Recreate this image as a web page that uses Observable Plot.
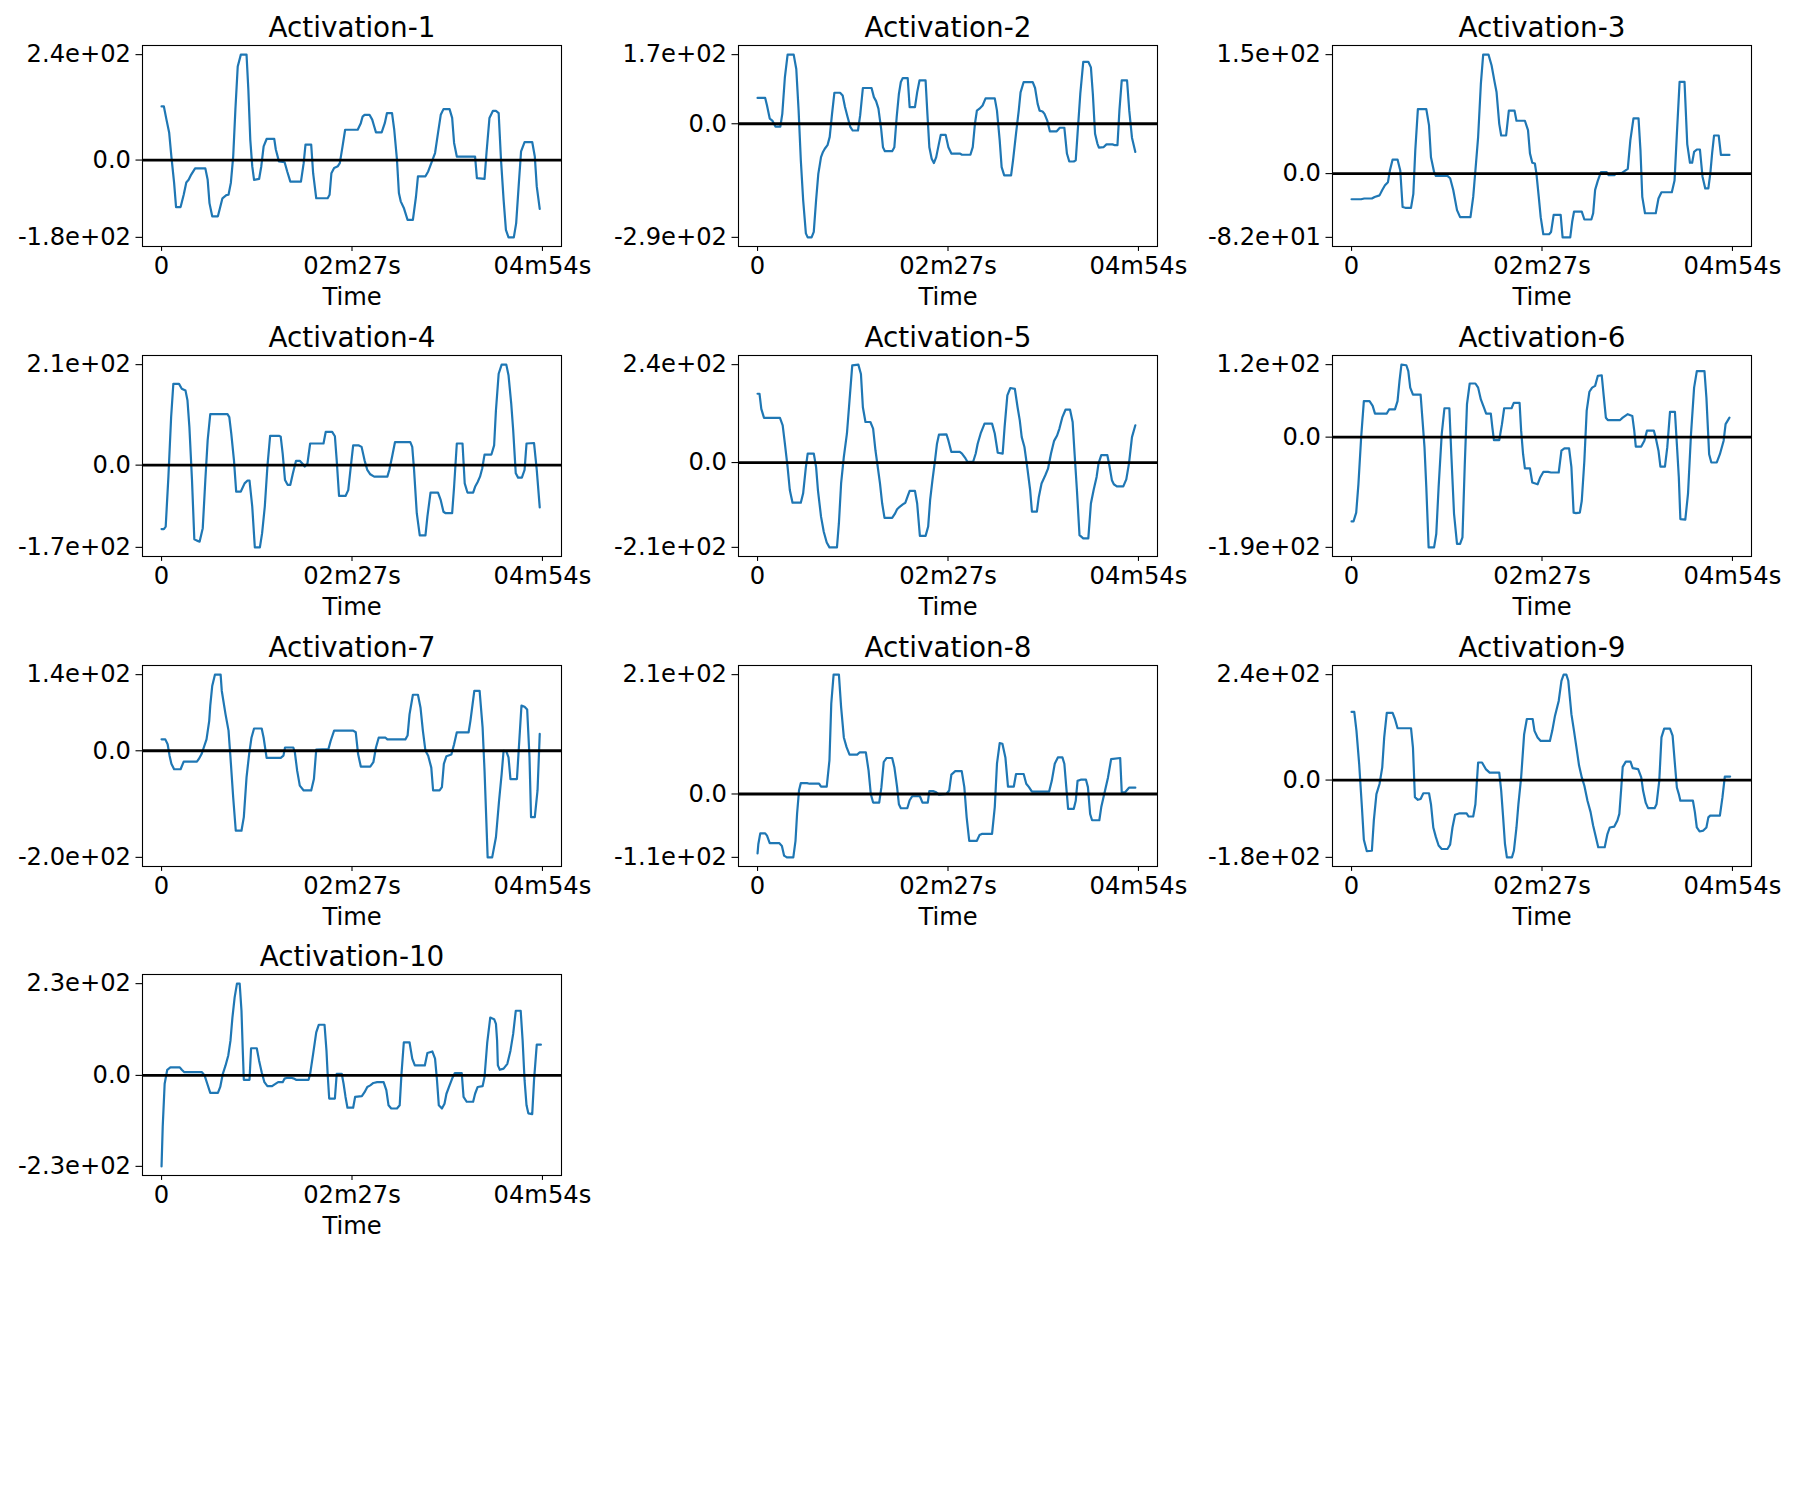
<!DOCTYPE html>
<html>
<head>
<meta charset="utf-8">
<script src="https://cdn.jsdelivr.net/npm/d3@7"></script>
<script src="https://cdn.jsdelivr.net/npm/@observablehq/plot@0.6"></script>
<style>
  html, body { margin: 0; padding: 0; background: #fff; }
  #fig { position: relative; width: 1800px; height: 1500px; background: #fff; }
  #fig svg { position: absolute; }
</style>
</head>
<body>
<div id="fig"></div>
<script>
// ---- data: [time (s), activation value] ----
const act1 = [[0,122],[1.8,122],[3.8,92],[5.9,62],[7.6,8],[9.7,-52],[11.2,-107],[14.7,-107],[17.1,-79],[19.1,-51],[20.9,-45],[22.9,-33],[25.9,-19],[33.8,-19],[35.6,-45],[37,-98],[39.1,-128],[43.5,-128],[47,-87],[50,-80],[51.7,-79],[53.5,-52],[55.3,8],[57,115],[58.8,213],[61.2,240],[65.6,240],[67,160],[68.5,46],[70,-14],[71.4,-45],[75.3,-43],[77,-14],[78.8,31],[81.1,48],[87,48],[88.2,24],[90.6,-3],[95,-5],[97,-26],[99.4,-49],[107.6,-49],[109.7,-7],[111.1,35],[115.5,35],[117,-30],[119.4,-87],[128.2,-87],[129.7,-79],[131.1,-30],[133.2,-18],[136.1,-14],[137.6,-7],[139.7,31],[141.7,69],[151.4,69],[153.8,84],[155.2,99],[156.7,103],[160.5,103],[162.6,92],[164.1,77],[165.5,63],[169.9,63],[172.3,84],[174,107],[177.9,107],[179.6,69],[181.7,1],[183.2,-75],[184.6,-94],[187,-109],[189.9,-136],[194,-136],[196.4,-83],[197.9,-37],[203.7,-37],[205.8,-26],[208.2,-7],[211.1,16],[213.4,62],[215.5,103],[217.6,116],[222.3,116],[224.3,96],[225.8,39],[227.9,8],[242,8],[243.4,-41],[249.3,-43],[250.8,16],[253.1,96],[255.8,112],[258.1,112],[260.2,107],[262,1],[264,-90],[265.8,-159],[267.8,-176],[271.9,-176],[273.7,-144],[275.8,-52],[277.5,20],[280.2,41],[286.1,41],[288.1,8],[289.6,-60],[291.9,-111]];

const act2 = [[0,65],[5.9,65],[7.3,46],[9.4,13],[11.4,8],[13.8,-7],[17.6,-7],[19.1,25],[21.1,117],[23.2,174],[27.9,174],[29.9,138],[31.7,33],[33.4,-92],[35.2,-192],[37.3,-276],[38.7,-286],[41.7,-286],[43.4,-272],[45.2,-192],[46.9,-126],[49,-84],[50.5,-71],[51.9,-63],[54,-54],[55.7,-33],[57.5,25],[59.3,78],[63.7,78],[65.7,71],[67.5,42],[69.5,17],[71.6,-8],[73.4,-17],[77.5,-17],[79.2,21],[81.3,90],[88,90],[89.8,67],[91.5,57],[93.3,38],[95.4,-13],[96.8,-59],[98.3,-69],[103.9,-69],[105.6,-59],[107.4,17],[109.1,75],[110.6,105],[112.1,115],[115.9,115],[117.4,42],[121.5,42],[123.2,79],[125,109],[129.7,109],[131.1,25],[132.6,-59],[134.4,-88],[136.1,-99],[137.9,-84],[140,-50],[141.4,-28],[145.2,-28],[147.3,-59],[149.6,-75],[156.1,-75],[157.8,-78],[164.3,-78],[166.1,-59],[167.8,0],[169.3,33],[171.3,38],[173.7,46],[176,64],[183.1,64],[184.8,33],[186.9,-42],[188.4,-109],[190.4,-130],[195.7,-130],[197.2,-92],[199.5,-25],[201.6,33],[203,79],[205.4,105],[212.4,105],[214.2,90],[216.2,50],[217.7,33],[220,31],[221.5,25],[223.6,8],[225.6,-19],[230.9,-19],[233.3,-10],[236.8,-10],[238.8,-75],[240.6,-95],[244.1,-95],[245.6,-92],[247,-25],[249.1,75],[251.4,156],[255.3,156],[257.3,142],[258.8,75],[260.5,-25],[262.3,-50],[263.5,-60],[267,-59],[269.3,-52],[274,-52],[275.8,-54],[277.8,-54],[279.3,33],[281.1,109],[285.2,109],[286.9,33],[289,-35],[291.6,-71]];

const act3 = [[0,-33],[7.4,-33],[9.8,-32],[15.7,-32],[17.8,-30],[21.6,-28],[23.7,-21],[25.8,-15],[28.1,-11],[29.6,4],[31.7,18],[35.5,18],[37.6,4],[39.4,-43],[41.5,-44],[45.9,-44],[47.7,-26],[49.2,30],[51.2,83],[57.7,83],[59.8,62],[61.3,21],[63.7,2],[65.1,-3],[74,-3],[76.1,-6],[78.5,-21],[81.4,-47],[83.8,-56],[91.8,-56],[93.9,-30],[95.6,4],[97.7,47],[99.8,115],[101.6,153],[105.7,153],[108.1,139],[110.4,118],[111.9,105],[114,64],[115.5,49],[119.3,49],[121.4,81],[125.8,81],[127.3,68],[133.8,68],[136.2,56],[137.7,26],[139.5,14],[141.5,13],[142.7,0],[144.5,-30],[146,-56],[148,-78],[152.5,-78],[154,-75],[156,-53],[161.4,-53],[162.9,-82],[168.8,-82],[170.3,-62],[171.7,-49],[177.7,-49],[179.7,-59],[185.1,-59],[186.5,-51],[188,-21],[190.1,-9],[192.5,2],[196.9,2],[198.4,-2],[202.8,-2],[204.3,0],[208.7,1],[213.2,6],[215.2,43],[217.6,71],[221.5,71],[223,30],[224.4,-30],[226.5,-51],[234.8,-51],[236.9,-32],[239.2,-24],[247.2,-24],[249.3,-9],[251.1,51],[253.2,118],[257,118],[259.1,38],[261.2,14],[262.9,14],[264.4,28],[266.5,31],[268.9,31],[270.9,-4],[273,-19],[275.4,-19],[276.9,0],[278.3,26],[279.8,49],[283.4,49],[285.1,24],[291.7,24]];

const act4 = [[0,-133],[1.8,-133],[3.2,-128],[5.3,-24],[7.4,100],[9.1,169],[13.5,169],[15.6,159],[18.5,155],[20,135],[21.5,79],[23.5,-31],[25.3,-154],[27.3,-157],[29.4,-159],[31.8,-131],[33.8,-31],[35.6,52],[37.6,106],[50.9,106],[52.3,100],[53.8,66],[55.9,10],[57.6,-55],[61.2,-55],[64.1,-38],[66.4,-32],[67.9,-32],[70,-86],[72,-171],[75.9,-171],[77.6,-142],[79.7,-86],[81.7,-3],[83.8,61],[90.6,61],[92,59],[93.5,24],[95.3,-31],[97.3,-41],[99.4,-41],[101.4,-17],[103.8,9],[106.7,9],[108.8,3],[110.5,-3],[112.6,3],[114.7,45],[125,45],[126.7,69],[131.7,69],[133.8,60],[135.2,10],[137,-64],[142,-64],[144.1,-52],[145.8,-10],[147.9,41],[152.3,41],[154.4,38],[156.7,10],[158.8,-10],[161.1,-19],[164.1,-24],[174.3,-24],[175.8,-10],[177.9,17],[180.2,48],[192,48],[193.5,38],[194.9,-10],[197,-100],[199.3,-146],[203.7,-146],[205.2,-107],[207.6,-57],[213.4,-57],[215.5,-73],[217.6,-97],[219.3,-100],[224.3,-100],[225.8,-45],[227.9,45],[232.3,45],[234,-38],[236.1,-57],[240.5,-57],[242,-45],[244,-35],[245.8,-24],[247.5,-7],[249.3,22],[254.6,22],[256.7,41],[258.1,114],[260.2,190],[262.5,209],[266.1,209],[267.8,187],[269.9,128],[271.4,73],[273.4,-17],[275.2,-26],[278.1,-26],[280.2,-10],[281.7,45],[287.5,46],[289.6,-10],[291.9,-88]];

const act5 = [[0,168],[1.5,168],[2.9,131],[5,109],[17.3,109],[19.4,91],[21.1,46],[23.2,-11],[24.9,-67],[27,-98],[33.4,-98],[35.2,-75],[37.3,-11],[38.7,22],[43.4,22],[45.2,-11],[46.6,-67],[49,-132],[51.1,-169],[53.4,-195],[55.5,-207],[61.3,-207],[62.8,-148],[64.5,-51],[66.6,14],[69,71],[71,152],[73.1,237],[77.8,239],[79.8,216],[81.3,135],[83.3,99],[87.1,99],[89.2,83],[91,30],[92.4,-2],[94.5,-51],[96.2,-100],[98,-135],[103.9,-135],[106.2,-124],[107.7,-114],[109.7,-108],[112.1,-102],[114.1,-98],[115.9,-82],[117.4,-69],[121.5,-69],[123.2,-100],[125.3,-179],[129.7,-179],[131.7,-156],[133.2,-92],[135,-43],[137,6],[138.5,46],[140,68],[145.8,69],[147.3,54],[149.6,26],[156.1,26],[157.8,22],[160.5,10],[162,2],[166.4,2],[168.4,22],[169.9,46],[172.2,71],[175.2,95],[181,95],[183.1,71],[185.4,24],[189.2,22],[190.7,87],[192.8,164],[195.1,182],[198.6,180],[200.7,135],[202.4,103],[203.9,62],[206,38],[208.3,-15],[210.4,-67],[211.8,-120],[215.6,-120],[217.1,-84],[219.2,-51],[222.1,-31],[224.2,-15],[226.5,22],[228.9,53],[231.2,66],[233,83],[235.3,111],[237.7,129],[241.2,129],[243.2,99],[244.7,22],[246.5,-67],[248.5,-177],[251.4,-185],[255.3,-185],[257.3,-100],[259.4,-67],[261.7,-35],[263.2,-2],[265.3,18],[270,18],[271.5,-6],[273.5,-43],[275,-53],[277.3,-58],[282.3,-58],[284.6,-41],[286.7,-2],[289,62],[291.6,91]];

const act6 = [[0,-143],[1.5,-143],[3.6,-128],[5.3,-80],[7.4,-1],[9.5,61],[13.9,61],[16.3,53],[18.1,40],[27.2,40],[29,47],[33.5,47],[35.5,61],[37,95],[38.5,123],[42.3,122],[43.8,112],[45.3,84],[47.4,72],[53.3,72],[54.8,28],[56.3,-17],[57.7,-85],[59.5,-187],[63.7,-187],[65.4,-164],[67.2,-85],[69.6,5],[71.7,49],[75.5,49],[77,-29],[79.1,-130],[81.4,-181],[83.8,-181],[85.6,-170],[87.4,-46],[89.1,56],[91.2,91],[95.6,91],[97.7,84],[99.8,64],[102.2,50],[103.9,40],[107.5,40],[108.7,16],[109.9,-5],[114,-5],[116.1,22],[117.8,49],[123.5,49],[125.2,58],[129.7,58],[130.9,11],[132.4,-29],[133.8,-53],[137.7,-53],[139.5,-77],[143.6,-80],[145.7,-68],[148,-59],[151.6,-59],[154,-60],[159.9,-60],[162,-23],[164.3,-19],[167.9,-19],[169.7,-51],[171.4,-128],[173.2,-129],[176.2,-128],[177.7,-108],[179.7,-40],[181.5,45],[183.6,77],[185.7,84],[188,87],[190.1,104],[193.1,105],[194.5,73],[196.3,33],[197.8,29],[207.3,29],[209.3,33],[213.2,39],[216.7,36],[218.2,11],[219.4,-16],[223.6,-16],[226,-6],[228,11],[233.3,11],[234.8,-1],[236.9,-23],[238.4,-50],[241.9,-50],[243.7,-17],[245.8,43],[249.6,43],[251.1,-12],[252.6,-68],[253.8,-139],[257.6,-140],[259.7,-96],[262,5],[264.4,84],[266.5,112],[272.4,112],[273.9,67],[276,-29],[277.7,-43],[281.9,-43],[284.3,-29],[287.2,-6],[288.7,22],[291.7,33]];

const act7 = [[0,21],[2.9,21],[4.7,12],[6.2,-9],[7.6,-24],[9.7,-34],[14.7,-34],[17.1,-20],[27.3,-20],[28.8,-15],[30.9,-6],[32.6,6],[34.7,21],[36.8,55],[37.6,83],[39.1,119],[41.2,140],[45.6,140],[46.5,110],[49.4,67],[51.7,37],[53.2,-12],[55.3,-86],[57.3,-147],[61.7,-147],[63.5,-122],[65.6,-49],[67.6,-6],[69.4,24],[71.4,41],[77.3,41],[78.8,24],[81.1,-13],[92,-13],[94.1,-9],[95.3,6],[101.7,6],[102.9,-3],[104.7,-37],[106.7,-64],[109.7,-73],[115.5,-73],[117.6,-52],[119.4,2],[128.8,3],[130.5,18],[133.2,37],[147.9,37],[149.9,34],[151.7,-6],[153.8,-29],[161.1,-29],[163.5,-21],[165.5,6],[167.6,24],[172.9,24],[174.3,21],[188.2,21],[189.9,28],[191.4,67],[194,103],[197.9,103],[199.9,79],[201.7,37],[203.7,0],[205.8,-9],[208.2,-31],[209.6,-73],[214.6,-73],[216.4,-67],[217.9,-24],[219.9,-10],[223.7,-7],[225.8,12],[227.9,34],[237,34],[238.4,55],[241.4,110],[245.5,110],[247.8,43],[249.3,-37],[251.7,-196],[255.2,-196],[258.1,-159],[260.5,-92],[262.5,-43],[264,0],[266.1,-1],[267.8,-12],[269.3,-52],[274.3,-52],[275.8,6],[277.8,83],[280.2,81],[282.2,76],[284,-12],[285.2,-122],[288.1,-122],[290.2,-73],[291.9,31]];

const act8 = [[0,-104],[0.6,-88],[2.1,-69],[5.9,-69],[7.3,-73],[9.4,-86],[16.7,-86],[18.8,-91],[20.5,-108],[22.6,-111],[27.6,-111],[29.3,-82],[30.5,-35],[32,6],[33.4,19],[38.1,19],[40.2,18],[47.5,18],[49,13],[53.4,13],[55.5,59],[56.9,158],[58.7,209],[62.8,209],[64.5,152],[66.6,99],[68.7,82],[71,69],[76.9,69],[78.9,73],[83.6,73],[85.7,41],[87.4,0],[89.2,-15],[93.9,-15],[95.6,12],[97.4,56],[99.5,63],[103.9,63],[105.6,47],[107.7,12],[109.1,-18],[110.6,-25],[115.6,-25],[117.4,-11],[119.4,-4],[125.3,-4],[127.3,-15],[131.4,-15],[132.6,5],[135.5,5],[137.9,3],[140,-1],[145.8,0],[147.9,6],[149.6,34],[152.6,40],[157.6,40],[159.6,12],[161.4,-41],[163.4,-82],[169.3,-82],[171.3,-72],[173.1,-70],[181,-70],[183.1,-23],[184.8,53],[186.9,89],[189,88],[191.3,64],[193.3,13],[197.8,13],[199.5,35],[205.4,35],[207.4,18],[209.5,12],[211.8,4],[225,4],[227.1,23],[229.4,53],[231.8,64],[235.3,64],[236.8,53],[238.3,12],[239.7,-26],[244.1,-26],[245.6,-12],[247,23],[249.4,25],[253.5,25],[255,12],[256.7,-35],[258.2,-46],[263.8,-46],[265.3,-23],[267.6,0],[270.5,29],[272.9,61],[279.9,63],[281.1,3],[283.7,3],[286.7,11],[291.6,11]];

const act9 = [[0,155],[2.1,155],[3.8,112],[5.9,36],[8,-62],[9.5,-136],[11.8,-162],[15.7,-161],[17.2,-92],[19.2,-32],[21.6,-9],[23.7,29],[25.2,97],[27.2,153],[31.7,153],[33.5,139],[35.5,118],[45.9,118],[47.4,74],[48.9,-39],[51.2,-45],[53.3,-43],[55.4,-30],[59.8,-30],[61.3,-55],[63.1,-108],[65.1,-130],[67.2,-149],[69.6,-157],[74,-157],[76.1,-147],[77.9,-108],[79.9,-79],[82.9,-76],[88.8,-76],[90.3,-83],[93.9,-83],[95.6,-55],[97.7,40],[100.7,40],[103.6,25],[106.6,17],[114,17],[115.5,-24],[117,-85],[118.4,-145],[119.9,-176],[123.8,-176],[125.3,-161],[127.3,-108],[128.8,-55],[130.9,6],[133.2,104],[135.3,139],[139.8,139],[141.2,112],[143.6,97],[146,89],[153.1,89],[154.9,112],[157,146],[159.9,180],[162,226],[163.7,240],[165.8,240],[167.3,226],[169.7,150],[171.7,112],[173.8,70],[175.6,33],[177.7,6],[179.7,-13],[182.1,-47],[184.5,-73],[186.5,-104],[188.6,-130],[190.4,-153],[195.4,-153],[197.5,-123],[199.3,-108],[202.8,-106],[205.2,-92],[206.7,-77],[208.2,-17],[209.3,30],[211.7,42],[215.3,42],[217,27],[221.2,25],[223.6,6],[225,-24],[227.1,-52],[228.9,-64],[233.9,-64],[235.4,-55],[237.5,-2],[239.2,97],[241.3,117],[245.8,117],[247.8,101],[249.6,36],[251.1,-17],[252.6,-32],[253.8,-47],[263.5,-47],[265,-73],[266.5,-108],[268.6,-117],[271.5,-115],[273.9,-108],[275.4,-85],[276.8,-81],[284.3,-81],[286.3,-39],[288.1,8],[292.2,8]];

const act10 = [[0,-228],[0.9,-129],[2.4,-21],[4.4,14],[6.8,20],[14.1,20],[15.6,14],[17.6,8],[31.2,8],[33.2,0],[35.3,-21],[37.6,-44],[43.5,-44],[45.3,-29],[47.3,4],[49.4,25],[51.5,50],[53.2,87],[54.7,145],[56.4,195],[58.2,230],[60.3,230],[61.7,162],[62.6,71],[63.5,-11],[67.9,-11],[69.1,68],[73.5,68],[75.3,37],[77.3,8],[79.4,-17],[81.7,-27],[85.3,-27],[87.6,-22],[90,-17],[93.5,-17],[95,-8],[97,-6],[100,-6],[102.3,-8],[103.8,-11],[113.5,-11],[114.7,4],[117,54],[119.4,108],[121.4,127],[125.8,127],[127.3,62],[128.2,4],[129.4,-58],[133.8,-58],[135.2,4],[139.1,4],[140.5,-21],[142,-54],[143.5,-81],[147.9,-81],[149.4,-54],[154.6,-52],[156.7,-42],[158.8,-29],[161.1,-25],[163.5,-19],[166.4,-17],[171.4,-17],[173.5,-37],[175.2,-75],[177.3,-83],[181.7,-83],[183.8,-75],[185.2,4],[187,83],[191.4,83],[193.5,42],[195.5,25],[203.2,25],[205.2,56],[209,60],[211.1,42],[212.6,-12],[214,-75],[216.4,-83],[218.4,-71],[219.9,-46],[222.3,-25],[224.3,-8],[226.4,6],[231.7,6],[233.1,-54],[235.5,-66],[240.5,-66],[242,-46],[244,-29],[247.8,-27],[249.3,-4],[251.4,83],[253.7,145],[256.7,141],[258.1,129],[259,87],[259.6,25],[261.1,14],[264,17],[266.9,29],[269.3,62],[271.4,104],[273.4,162],[277.2,162],[278.7,87],[280.2,-12],[281.7,-75],[283.1,-95],[286.1,-97],[287.5,-12],[289.6,77],[292.8,77]];

const titles = ["Activation-1","Activation-2","Activation-3","Activation-4","Activation-5","Activation-6","Activation-7","Activation-8","Activation-9","Activation-10"];
const series = [act1, act2, act3, act4, act5, act6, act7, act8, act9, act10];
const xTicks = [0, 147, 294];
const xTickLabels = ["0", "02m27s", "04m54s"];
const xLabel = "Time";

// ---- layout ----
const frameLefts = [142, 738, 1332];
const frameTops = [45, 355, 665, 974];
const frameW = 419, frameH = 201;
const mL = 142, mT = 45, mR = 34, mB = 64;
const tickFs = 24.2, titleFs = 27.8;

const xTickLabelMap = new Map(xTicks.map((t, i) => [t, xTickLabels[i]]));
const xPad = 0.05 * (xTicks[2] - xTicks[0]);
const xDomain = [xTicks[0] - xPad, xTicks[2] + xPad];

function sci(v) {
  if (v === 0) return "0.0";
  return v.toExponential(1).replace(/e([+-])(\d)$/, "e$10$2");
}

const fig = document.getElementById("fig");

series.forEach((data, i) => {
  const col = i % 3, row = Math.floor(i / 3);
  const [lo, hi] = d3.extent(data, d => d[1]);
  const pad = 0.05 * (hi - lo);
  const yTicks = [lo, 0, hi];

  const svg = Plot.plot({
    width: mL + frameW + mR,
    height: mT + frameH + mB,
    marginLeft: mL, marginRight: mR, marginTop: mT, marginBottom: mB,
    style: {fontFamily: "'DejaVu Sans', sans-serif", fontSize: tickFs + "px", color: "black", background: "white", overflow: "visible"},
    x: {domain: xDomain, axis: null},
    y: {domain: [lo - pad, hi + pad], axis: null},
    marks: [
      Plot.line(data, {x: d => d[0], y: d => d[1], stroke: "#1f77b4", strokeWidth: 2.2}),
      Plot.ruleY([0], {stroke: "black", strokeWidth: 2.8}),
      Plot.frame({stroke: "black", strokeWidth: 1.1}),
      Plot.axisY(yTicks, {anchor: "left", tickSize: 6.5, tickPadding: 5, tickFormat: sci, strokeWidth: 1.1, fontSize: tickFs, label: null}),
      Plot.axisX(xTicks, {anchor: "bottom", tickSize: 4.9, tickPadding: 5.5, tickFormat: d => xTickLabelMap.get(d), strokeWidth: 1.1, fontSize: tickFs, label: null}),
      Plot.text([titles[i]], {frameAnchor: "top", lineAnchor: "bottom", dy: -8.3, fontSize: titleFs, fill: "black", text: d => d}),
      Plot.text([xLabel], {frameAnchor: "bottom", lineAnchor: "bottom", dy: 58, fontSize: tickFs, fill: "black", text: d => d})
    ]
  });
  svg.style.left = (frameLefts[col] - mL) + "px";
  svg.style.top = (frameTops[row] - mT) + "px";
  fig.appendChild(svg);
});
</script>
</body>
</html>
